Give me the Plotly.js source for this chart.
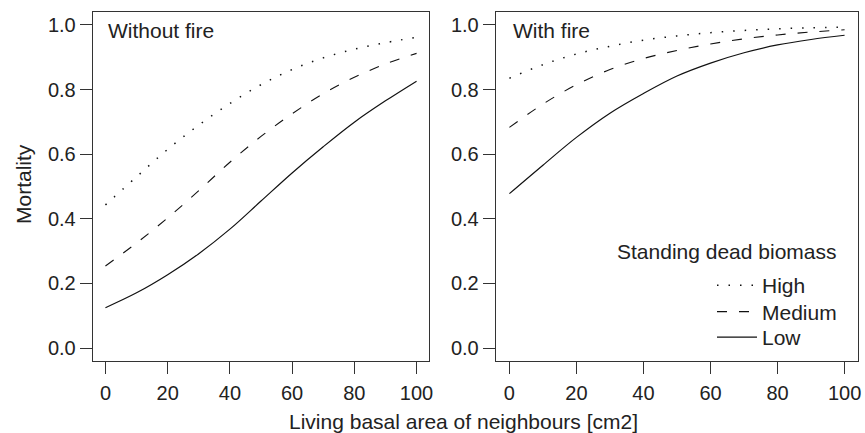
<!DOCTYPE html>
<html>
<head>
<meta charset="utf-8">
<script src="https://cdn.plot.ly/plotly-3.0.1.min.js"></script>
<style>html,body{margin:0;padding:0;background:#fff;}#chart{width:865px;height:433px;}</style>
</head>
<body>
<div id="chart"></div>
<script>
// Living basal area of neighbours [cm2]
const basalArea = [0, 10, 20, 30, 40, 50, 60, 70, 80, 90, 100];

// Without fire
const noFireHigh   = [0.443, 0.530, 0.615, 0.690, 0.757, 0.815, 0.862, 0.898, 0.925, 0.945, 0.962];
const noFireMedium = [0.254, 0.325, 0.403, 0.487, 0.575, 0.655, 0.725, 0.787, 0.838, 0.879, 0.912];
const noFireLow    = [0.125, 0.171, 0.227, 0.292, 0.368, 0.455, 0.542, 0.623, 0.699, 0.765, 0.826];

// With fire
const fireHigh   = [0.835, 0.877, 0.910, 0.934, 0.953, 0.966, 0.976, 0.983, 0.988, 0.991, 0.993];
const fireMedium = [0.683, 0.755, 0.815, 0.862, 0.896, 0.921, 0.941, 0.957, 0.969, 0.978, 0.985];
const fireLow    = [0.478, 0.566, 0.652, 0.727, 0.788, 0.842, 0.882, 0.914, 0.938, 0.955, 0.968];

const levelNames = ['High', 'Medium', 'Low'];
const xTicks = [0, 20, 40, 60, 80, 100];
const yTicks = [0, 0.2, 0.4, 0.6, 0.8, 1.0];

const FONT = 'Liberation Sans, Arial, Helvetica, sans-serif';
const TXT = '#222';
const dashes = {High: '1.5px,10px', Medium: '10px,12px', Low: 'solid'};
const widths = {High: 1.5, Medium: 1.1, Low: 1.2};
const legendIds = {High: 'legend', Medium: 'legend2', Low: 'legend3'};

function mk(y, name, xa, ya, showLeg) {
  return {
    x: basalArea, y: y, name: name, type: 'scatter', mode: 'lines',
    xaxis: xa, yaxis: ya, showlegend: showLeg, legend: legendIds[name],
    line: {color: '#111', width: widths[name], dash: dashes[name], shape: 'spline', smoothing: 1}
  };
}

const traces = [
  mk(noFireHigh, levelNames[0], 'x', 'y', false),
  mk(noFireMedium, levelNames[1], 'x', 'y', false),
  mk(noFireLow, levelNames[2], 'x', 'y', false),
  mk(fireHigh, levelNames[0], 'x2', 'y2', true),
  mk(fireMedium, levelNames[1], 'x2', 'y2', true),
  mk(fireLow, levelNames[2], 'x2', 'y2', true)
];

const axBase = {
  showgrid: false, zeroline: false, showline: true, mirror: true,
  linecolor: '#333', linewidth: 1.3, ticks: 'outside', ticklen: 12,
  tickcolor: '#333', tickwidth: 1.1,
  tickfont: {family: FONT, size: 20, color: TXT}
};

const xAx = Object.assign({}, axBase, {range: [-4, 104], tickvals: xTicks, ticklabelstandoff: 2});
const yAx = Object.assign({}, axBase, {range: [-0.04, 1.04], tickvals: yTicks, tickformat: '.1f', ticklabelstandoff: 0});

const L = 93, W = 765, T = 12, H = 349;
const px = v => (v - L) / W;
const py = v => (T + H - v) / H;

function leg(yc) {
  return {
    x: px(712), y: py(yc - 20), xanchor: 'left', yanchor: 'top',
    bgcolor: 'rgba(0,0,0,0)', borderwidth: 0,
    font: {family: FONT, size: 21, color: TXT},
    itemwidth: 40
  };
}

const layout = {
  width: 865, height: 433,
  margin: {l: L, r: 865 - L - W, t: T, b: 433 - T - H, pad: 0},
  paper_bgcolor: '#fff', plot_bgcolor: '#fff',
  font: {family: FONT, size: 21, color: TXT},
  xaxis: Object.assign({}, xAx, {domain: [0, px(429)], anchor: 'y'}),
  yaxis: Object.assign({}, yAx, {anchor: 'x'}),
  xaxis2: Object.assign({}, xAx, {domain: [px(496), 1], anchor: 'y2'}),
  yaxis2: Object.assign({}, yAx, {anchor: 'x2'}),
  showlegend: true,
  legend: leg(285),
  legend2: leg(311.5),
  legend3: leg(337),
  annotations: [
    {text: 'Without fire', xref: 'paper', yref: 'paper', x: px(106), y: py(30), xanchor: 'left', yanchor: 'middle', showarrow: false, font: {family: FONT, size: 21, color: TXT}},
    {text: 'With fire', xref: 'paper', yref: 'paper', x: px(511), y: py(30), xanchor: 'left', yanchor: 'middle', showarrow: false, font: {family: FONT, size: 21, color: TXT}},
    {text: 'Standing dead biomass', xref: 'paper', yref: 'paper', x: px(726.5), y: py(251), xanchor: 'center', yanchor: 'middle', showarrow: false, font: {family: FONT, size: 21, color: TXT}},
    {text: 'Mortality', xref: 'paper', yref: 'paper', x: px(23), y: py(184), xanchor: 'center', yanchor: 'middle', textangle: -90, showarrow: false, font: {family: FONT, size: 21, color: TXT}},
    {text: 'Living basal area of neighbours [cm2]', xref: 'paper', yref: 'paper', x: px(463.5), y: py(421), xanchor: 'center', yanchor: 'middle', showarrow: false, font: {family: FONT, size: 21, color: TXT}}
  ]
};

Plotly.newPlot('chart', traces, layout, {displayModeBar: false, staticPlot: true});
</script>
</body>
</html>
